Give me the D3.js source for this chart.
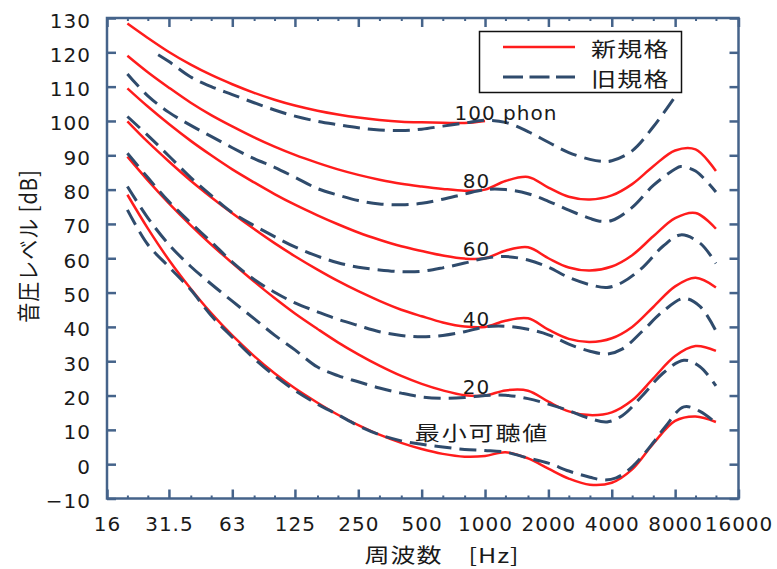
<!DOCTYPE html>
<html><head><meta charset="utf-8">
<script src="https://cdn.jsdelivr.net/npm/d3@7"></script>
<style>body{margin:0;background:#fff}svg{display:block}</style>
</head><body><svg id="c" width="777" height="569"></svg>
<script>
// ---------- data ----------
const newFreq = [20,25,31.5,40,50,63,80,100,125,160,200,250,315,400,500,630,800,1000,1250,1600,2000,2500,3150,4000,5000,6300,8000,10000,12500];
const newThreshold = [78.5,68.7,59.5,51.1,44.0,37.5,31.5,26.5,22.1,17.9,14.4,11.4,8.6,6.2,4.4,3.0,2.2,2.4,3.5,1.7,-1.3,-4.2,-6.0,-5.4,-1.5,6.0,12.6,13.9,12.3];
const new20 = [89.6,82.7,76.0,69.6,64.0,58.6,53.2,48.4,43.9,39.4,35.5,32.0,28.7,25.7,23.4,21.5,20.1,20.0,21.5,21.4,18.2,15.4,14.3,15.1,18.6,25.0,31.5,34.4,33.0];
const new40 = [99.9,93.9,88.2,82.6,77.8,73.1,68.5,64.4,60.6,56.7,53.4,50.4,47.6,45.0,43.1,41.3,40.1,40.0,41.8,42.5,39.2,36.5,35.6,36.7,40.0,45.8,51.8,54.3,51.5];
const new60 = [109.5,104.2,99.1,94.2,90.0,85.9,82.1,78.7,75.6,72.5,69.9,67.5,65.4,63.5,62.1,60.8,59.9,60.0,62.2,63.2,60.0,57.3,56.4,57.6,60.9,66.4,71.7,73.2,68.6];
const new80 = [119.0,114.2,109.7,105.3,101.7,98.4,95.2,92.5,90.1,87.8,85.9,84.3,82.9,81.7,80.9,80.2,79.7,80.0,82.5,83.7,80.6,77.9,77.1,78.3,81.6,86.8,91.4,91.7,85.4];
const new100 = [128.4,124.2,120.1,116.4,113.4,110.7,108.2,106.2,104.5,103.0,101.9,101.0,100.3,99.8,99.6,99.5,99.4,100.0];

// old standard: [frequency Hz, level dB]
const oldThreshold = [[20,74.1],[25,64.0],[31.5,57.5],[40,50.8],[50,43.3],[63,37.0],[80,30.8],[100,25.8],[125,21.5],[160,17.5],[200,14.4],[250,11.2],[315,8.6],[400,6.8],[500,5.8],[630,5.0],[800,4.3],[1000,4.0],[1250,3.5],[1600,1.8],[2000,0.3],[2500,-2.0],[3150,-3.8],[3650,-4.6],[4200,-4.0],[5000,-0.8],[6300,6.3],[7200,11.0],[8800,16.7],[10500,15.4],[12500,12.0]];
const old20 = [[20,80.9],[25,71.8],[31.5,64.0],[40,57.6],[50,52.5],[63,47.5],[80,42.4],[100,37.6],[125,33.3],[160,28.3],[200,25.8],[250,24.0],[315,22.2],[400,20.7],[500,19.6],[630,19.2],[800,19.4],[1000,20.0],[1250,20.1],[1600,19.1],[2000,17.5],[2500,15.6],[3150,13.3],[3800,12.3],[4500,14.2],[5600,20.0],[7000,26.5],[8800,30.3],[10500,28.4],[12500,22.8]];
const old40 = [[20,90.6],[25,83.5],[31.5,76.5],[40,70.3],[50,64.8],[63,58.9],[80,53.8],[100,50.1],[125,47.0],[160,44.4],[200,42.2],[250,40.4],[315,38.6],[400,37.5],[500,37.1],[630,37.5],[800,38.6],[1000,40.0],[1250,40.2],[1600,39.3],[2000,37.7],[2500,35.0],[3150,32.9],[3800,32.1],[4500,33.6],[5600,38.8],[7000,44.5],[8800,48.3],[10500,46.0],[12500,38.8]];
const old60 = [[20,101.3],[25,95.8],[31.5,89.8],[40,83.5],[50,78.3],[63,73.3],[80,69.5],[100,66.3],[125,63.3],[160,60.6],[200,58.7],[250,57.4],[315,56.6],[400,56.1],[500,56.2],[630,57.2],[800,58.6],[1000,60.0],[1250,60.5],[1600,59.5],[2000,57.4],[2500,54.4],[3150,52.3],[3800,51.5],[4500,53.0],[5600,57.3],[7000,63.5],[8500,66.8],[10500,64.4],[12500,58.5]];
const old80 = [[20,113.7],[25,107.3],[31.5,102.5],[40,98.7],[50,95.5],[63,92.2],[80,89.0],[100,86.5],[125,83.6],[160,80.3],[200,78.4],[250,76.8],[315,75.8],[400,75.6],[500,76.0],[630,77.2],[800,78.7],[1000,80.0],[1250,80.0],[1600,78.8],[2000,76.6],[2500,74.0],[3150,71.6],[3500,70.8],[4000,71.0],[5000,74.8],[6300,81.2],[8000,86.0],[8500,86.7],[10000,85.4],[12500,79.3]];
const old100 = [[28,119.3],[31.5,117.3],[40,112.8],[50,110.0],[63,107.7],[80,105.3],[100,103.2],[125,101.4],[160,99.9],[200,98.9],[250,98.0],[315,97.4],[400,97.2],[500,97.6],[630,98.5],[800,99.4],[1000,100.2],[1250,99.6],[1600,96.9],[2000,93.8],[2500,90.8],[3150,88.8],[3650,88.2],[4000,88.4],[5000,91.3],[6300,98.3],[8000,107.1]];

const xTickValues = [16,31.5,63,125,250,500,1000,2000,4000,8000,16000];
const xTickLabels = ["16","31.5","63","125","250","500","1000","2000","4000","8000","16000"];
const xMinorTicks = [20,25,40,50,80,100,160,200,315,400,630,800,1250,1600,2500,3150,5000,6300,10000,12500];
const yTickValues = [-10,0,10,20,30,40,50,60,70,80,90,100,110,120,130];

const curveLabels = ["100 phon","80","60","40","20","最小可聴値"];
const legendLabels = ["新規格","旧規格"];
const xTitle = "周波数\u3000[Hz]";
const yTitle = "音圧レベル [dB]";

// ---------- drawing ----------
const svg = d3.select("#c");
const L = 107, R = 738.5, T = 18, B = 498.5;
const x = d3.scaleLog().domain([16,16000]).range([L,R]);
const y = d3.scaleLinear().domain([-10,130]).range([B,T]);

const RED = "#ff1c1c", NAVY = "#2f4b6c", FRAME = "#45638a";
const line = d3.line().x(d=>x(d[0])).y(d=>y(d[1])).curve(d3.curveCatmullRom.alpha(0.5));

const newSeries = [newThreshold,new20,new40,new60,new80,new100].map(arr => arr.map((v,i)=>[newFreq[i],v]));
const oldSeries = [oldThreshold,old20,old40,old60,old80,old100];

svg.append("g").selectAll("path").data(newSeries).join("path")
  .attr("d", line).attr("fill","none").attr("stroke",RED).attr("stroke-width",2.5);
svg.append("g").selectAll("path").data(oldSeries).join("path")
  .attr("d", line).attr("fill","none").attr("stroke",NAVY).attr("stroke-width",3)
  .attr("stroke-dasharray","17,8");

// axes (inward ticks, framed box)
const axG = svg.append("g").attr("stroke",FRAME).attr("stroke-width",2.5).attr("fill","none");
const axB = d3.axisBottom(x).tickValues(xTickValues).tickSize(-9).tickFormat("");
const axT = d3.axisTop(x).tickValues(xTickValues).tickSize(-9).tickFormat("");
const axBm = d3.axisBottom(x).tickValues(xMinorTicks).tickSize(-3).tickFormat("");
const axTm = d3.axisTop(x).tickValues(xMinorTicks).tickSize(-3).tickFormat("");
const axLft = d3.axisLeft(y).tickValues(yTickValues).tickSize(-9).tickFormat("");
const axRgt = d3.axisRight(y).tickValues(yTickValues).tickSize(-9).tickFormat("");
function styl(g){ g.selectAll("path").remove(); g.selectAll("line").attr("stroke",FRAME).attr("stroke-width",2.5); }
svg.append("g").attr("transform",`translate(0,${B})`).call(axB).call(styl);
svg.append("g").attr("transform",`translate(0,${T})`).call(axT).call(styl);
svg.append("g").attr("transform",`translate(0,${B})`).call(axBm).call(styl).selectAll("line").attr("stroke-width",2);
svg.append("g").attr("transform",`translate(0,${T})`).call(axTm).call(styl).selectAll("line").attr("stroke-width",2);
svg.append("g").attr("transform",`translate(${L},0)`).call(axLft).call(styl);
svg.append("g").attr("transform",`translate(${R},0)`).call(axRgt).call(styl);
axG.append("rect").attr("x",L).attr("y",T).attr("width",R-L).attr("height",B-T);

// tick labels
const NUMFONT = "'DejaVu Sans', sans-serif";
const CJKFONT = "'Noto Sans CJK JP', sans-serif";
svg.append("g").selectAll("text").data(yTickValues).join("text")
  .attr("x",91).attr("y",d=>y(d)+2.5).attr("text-anchor","end").attr("dominant-baseline","central")
  .style("font-family",NUMFONT).style("font-size","20px").style("letter-spacing","1px").attr("fill","#1a1a1a")
  .text(d=> d<0 ? "\u2212"+Math.abs(d) : d);
svg.append("g").selectAll("text").data(xTickValues).join("text")
  .attr("x",d=>x(d)+0.5).attr("y",524).attr("text-anchor","middle").attr("dominant-baseline","central")
  .style("font-family",NUMFONT).style("font-size","20px").style("letter-spacing","1px").attr("fill","#1a1a1a")
  .text((d,i)=>xTickLabels[i]);

// axis titles
svg.append("text").attr("transform","translate(442,555) scale(1.25,1)")
  .attr("text-anchor","middle").attr("dominant-baseline","central")
  .style("font-family",CJKFONT).style("font-size","20px").style("letter-spacing","0.8px").attr("fill","#1a1a1a")
  .text(xTitle);
svg.append("text").attr("transform","translate(27,246) rotate(-90) scale(1,1.15)")
  .attr("text-anchor","middle").attr("dominant-baseline","central")
  .style("font-family",CJKFONT).style("font-size","20px").style("letter-spacing","1px").attr("fill","#1a1a1a")
  .text(yTitle);

// curve labels
const labelPos = [[506,112.5],[476.5,181],[476.5,248.5],[476.5,318.5],[476.5,386.5]];
svg.append("g").selectAll("text").data(labelPos).join("text")
  .attr("x",d=>d[0]).attr("y",d=>d[1]).attr("text-anchor","middle").attr("dominant-baseline","central")
  .style("font-family",NUMFONT).style("font-size","20px").style("letter-spacing","1px").attr("fill","#1a1a1a")
  .text((d,i)=>curveLabels[i]);
svg.append("text").attr("transform","translate(482,433) scale(1.25,1)")
  .attr("text-anchor","middle").attr("dominant-baseline","central")
  .style("font-family",CJKFONT).style("font-size","20px").style("letter-spacing","1.5px").attr("fill","#1a1a1a")
  .text(curveLabels[5]);

// legend
const lg = svg.append("g");
lg.append("rect").attr("x",479.5).attr("y",31.5).attr("width",202).attr("height",61)
  .attr("fill","#fff").attr("stroke","#111").attr("stroke-width",1.5);
const legY = [47,77];
lg.append("line").attr("x1",503).attr("x2",575).attr("y1",legY[0]).attr("y2",legY[0]).attr("stroke",RED).attr("stroke-width",2.5);
lg.append("line").attr("x1",503).attr("x2",575).attr("y1",legY[1]).attr("y2",legY[1]).attr("stroke",NAVY).attr("stroke-width",3).attr("stroke-dasharray","20,6.5");
lg.selectAll("text").data(legendLabels).join("text")
  .attr("transform",(d,i)=>`translate(591,${legY[i]+1.5}) scale(1.25,1)`)
  .attr("dominant-baseline","central")
  .style("font-family",CJKFONT).style("font-size","20px").style("letter-spacing","1px").attr("fill","#1a1a1a")
  .text(d=>d);
</script></body></html>
